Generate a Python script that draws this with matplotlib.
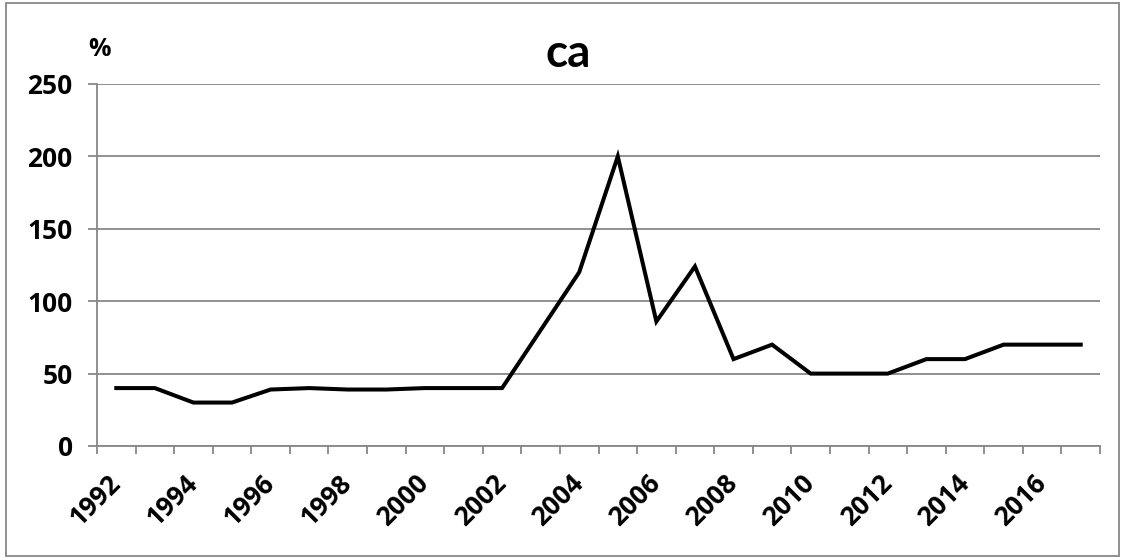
import matplotlib.pyplot as plt
import numpy as np
from matplotlib.patches import Rectangle

years = list(range(1992, 2018))
values = [40, 40, 30, 30, 39, 40, 39, 39, 40, 40, 40, 80, 120, 200, 86, 124,
          60, 70, 50, 50, 50, 60, 60, 70, 70, 70]
yticks = [0, 50, 100, 150, 200, 250]

plt.rcParams["font.family"] = ["Open Sans", "DejaVu Sans"]
plt.rcParams["font.weight"] = "bold"

W, H = 1123, 558
fig = plt.figure(figsize=(W / 100, H / 100), dpi=100)
ax = fig.add_axes([97 / W, 1 - 446 / H, (1100 - 97) / W, (446 - 84) / H])

grid_col = "#878787"
x = np.arange(len(years))
ax.plot(x, values, color="black", lw=2.9, solid_joinstyle="miter")

ax.set_xlim(-0.5, len(years) - 0.5)
ax.set_ylim(0, 250)
ax.set_yticks(yticks)
ax.set_yticklabels([str(v) for v in yticks], fontsize=19, fontweight="bold")
ax.yaxis.grid(True, color=grid_col, lw=1.3)
ax.set_axisbelow(True)

# boundary ticks between categories, labels every other year
ax.set_xticks(np.arange(-0.5, len(years)))
ax.set_xticklabels([])
ax.set_xticks(x[::2], minor=True)
ax.set_xticklabels([str(y) for y in years[::2]], minor=True, rotation=45,
                   ha="right", va="center", rotation_mode="anchor",
                   fontsize=19, fontweight="bold")
ax.tick_params(axis="x", which="major", length=6, color=grid_col, width=1.3)
ax.tick_params(axis="x", which="minor", length=0, pad=24)
ax.tick_params(axis="y", length=6.5, color=grid_col, width=1.3, pad=11)

for s in ["top", "right"]:
    ax.spines[s].set_visible(False)
for s in ["left", "bottom"]:
    ax.spines[s].set_color(grid_col)
    ax.spines[s].set_linewidth(1.3)

fig.text(568 / W, 1 - 67 / H, "ca", fontsize=33, fontweight="bold",
         family=["Lato", "DejaVu Sans"], ha="center", va="baseline")
fig.text(88 / W, 1 - 56 / H, "%", fontsize=18, fontweight="bold",
         ha="left", va="baseline")

fig.patches.append(Rectangle((6 / W, 2 / H), 1113 / W, 553 / H,
                             transform=fig.transFigure, fill=False,
                             edgecolor=grid_col, lw=1.3))

fig.savefig("out.png", dpi=100)
